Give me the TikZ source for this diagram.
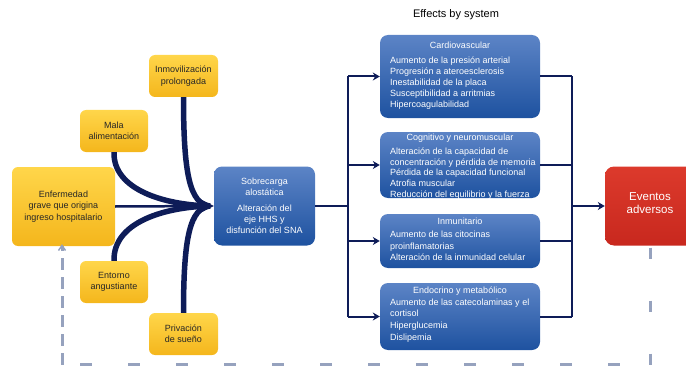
\documentclass[tikz,border=0pt]{standalone}
\usepackage{fontspec}
\setmainfont{Liberation Sans}
\usetikzlibrary{arrows.meta}
\definecolor{navy}{RGB}{14,28,88}
\definecolor{ytop}{RGB}{255,214,74}
\definecolor{ybot}{RGB}{244,182,28}
\definecolor{btop}{RGB}{92,132,198}
\definecolor{bbot}{RGB}{30,82,160}
\definecolor{evtop}{RGB}{220,58,44}
\definecolor{evbot}{RGB}{200,40,30}
\definecolor{dashc}{RGB}{150,162,190}
\newcommand\myfs[2]{\fontsize{#1}{#2}\selectfont\lineskiplimit=-6pt\relax}
\begin{document}
\begin{tikzpicture}[x=1pt,y=-1pt,
  ybox/.style={rectangle,rounded corners=6pt,top color=ytop,bottom color=ybot,draw=none,inner sep=0pt,
    align=center,font=\myfs{9}{11.3},text=black!85},
  bbox/.style={rectangle,rounded corners=8pt,top color=btop,bottom color=bbot,draw=none,inner sep=0pt},
  ttl/.style={text=white,font=\myfs{9}{11},inner sep=0pt},
  items/.style={text=white,font=\myfs{9}{11},align=left,inner sep=0pt,anchor=north west},
  conn/.style={draw=navy,line width=2pt},
  fat/.style={draw=navy,line width=5.5pt},
  tip/.style={-{Stealth[length=7pt,width=8pt]}},
  fb/.style={dashc,line width=3pt}
]
\useasboundingbox (0,0) rectangle (686,369);

% title
\node[font=\myfs{11}{13},inner sep=0pt] (head) at (456,15) {Effects by system};

% yellow boxes
\node[ybox,minimum width=103pt,minimum height=79pt] (enf) at (63.5,206.5)
  {Enfermedad\\grave que origina\\ingreso hospitalario};
\node[ybox,minimum width=68pt,minimum height=42pt] (mala) at (114,131) {Mala\\alimentación};
\node[ybox,minimum width=69pt,minimum height=42pt] (inmov) at (183.5,76) {Inmovilización\\prolongada};
\node[ybox,minimum width=68pt,minimum height=42pt] (ento) at (114,282) {Entorno\\angustiante};
\node[ybox,minimum width=69pt,minimum height=42pt] (priv) at (183.5,334) {Privación\\de sueño};

% central box
\node[bbox,minimum width=101pt,minimum height=79pt,text=white,align=center,
  font=\myfs{9}{11}] (sob) at (264.5,206)
  {Sobrecarga\\alostática\\[5pt]Alteración del\\eje HHS y\\disfunción del SNA};

% system boxes
\node[bbox,minimum width=160pt,minimum height=83pt] (card) at (460,76.5) {};
\node[bbox,minimum width=160pt,minimum height=66pt] (cogn) at (460,165) {};
\node[bbox,minimum width=160pt,minimum height=54pt] (inmu) at (460,241) {};
\node[bbox,minimum width=160pt,minimum height=67pt] (endo) at (460,316.5) {};

\node[ttl] (cardt) at (460,45) {Cardiovascular};
\node[items] (cardi) at (390,57) {Aumento de la presión arterial\\Progresión a ateroesclerosis\\Inestabilidad de la placa\\Susceptibilidad a arritmias\\Hipercoagulabilidad};

\node[ttl] (cognt) at (460,138) {Cognitivo y neuromuscular};
\node[items,font=\myfs{9}{10.8}] (cogni) at (390,147.5) {Alteración de la capacidad de\\concentración y pérdida de memoria\\Pérdida de la capacidad funcional\\Atrofia muscular\\Reducción del equilibrio y la fuerza};

\node[ttl] (inmut) at (460,221) {Inmunitario};
\node[items,font=\myfs{9}{11.5}] (inmui) at (390,231) {Aumento de las citocinas\\proinflamatorias\\Alteración de la inmunidad celular};

\node[ttl] (endot) at (460,291) {Endocrino y metabólico};
\node[items,font=\myfs{9}{11.2}] (endoi) at (390,299) {Aumento de las catecolaminas y el\\cortisol\\Hiperglucemia\\[1.5pt]Dislipemia};

% adverse events
\node[rectangle,rounded corners=9pt,top color=evtop,bottom color=evbot,draw=none,
  minimum width=96pt,minimum height=79pt] (ev) at (653,206) {};
\node[text=white,font=\myfs{11.5}{13},align=center,inner sep=0pt] (evt) at (650,203.5) {Eventos\\adversos};

% dashed feedback
\coordinate (d1) at (650,364.5);
\coordinate (d2) at (62,364.5);
\draw[fb,dash pattern=on 11pt off 42pt,dash phase=51pt] (ev.south -| d1) -- (d1);
\draw[fb,dash pattern=on 12pt off 36pt,dash phase=30pt] (d2) -- (d1);
\draw[fb,dash pattern=on 12pt off 7pt,
  -{Straight Barb[length=5pt,width=7pt,line width=1.5pt]}]
  (d2) -- ([yshift=2pt]enf.south -| d2);

% converging thick curves
\coordinate (m) at (210,206);
\draw[fat] (mala.south) .. controls (113,190) and (165,205) .. (m);
\draw[fat] (inmov.south) .. controls (183.5,175) and (190,204) .. (m);
\draw[fat] (ento.north) .. controls (113,222) and (165,207) .. (m);
\draw[fat] (priv.north) .. controls (183.5,237) and (190,208) .. (m);
\draw[draw=navy,line width=2.5pt,-{Stealth[length=14pt,width=14pt]}] (enf.east) -- (sob.west);

% bus to systems
\coordinate (b1) at (348,206);
\draw[conn] (sob.east) -- (b1);
\draw[conn] (card.west -| b1) -- (endo.west -| b1);
\foreach \n in {card,cogn,inmu,endo}
  \draw[conn,tip] (\n.west -| b1) -- (\n.west);

% bus to adverse events
\coordinate (b2) at (572,206);
\draw[conn] (card.east -| b2) -- (endo.east -| b2);
\foreach \n in {card,cogn,inmu,endo}
  \draw[conn] (\n.east) -- (\n.east -| b2);
\draw[conn,tip] (b2) -- (ev.west);
\end{tikzpicture}
\end{document}
